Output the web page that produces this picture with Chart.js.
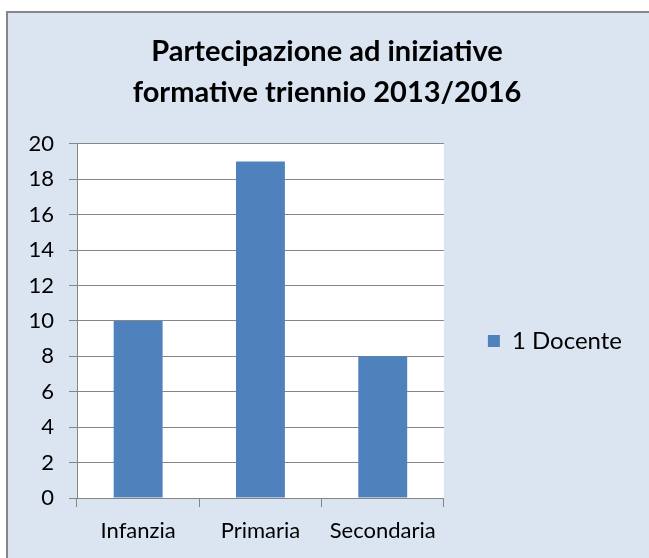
<!DOCTYPE html>
<html>
<head>
<meta charset="utf-8">
<script src="https://cdn.jsdelivr.net/npm/chart.js@4.4.1/dist/chart.umd.min.js"></script>
<style>
  html, body { margin: 0; padding: 0; background: #fff; overflow: hidden; }
  #frame {
    position: absolute; left: 6px; top: 11px; width: 700px; height: 600px;
    background: #dbe5f1; border: 2px solid #868686;
  }
  #wrap { position: absolute; left: 0; top: 0; width: 649px; height: 558px; }
</style>
</head>
<body>
<div id="frame"></div>
<div id="wrap"><canvas id="chart" width="649" height="558"></canvas></div>
<script>
// dati
const categorie = ['Infanzia', 'Primaria', 'Secondaria'];
const docenti = [10, 19, 8];
const titolo = ['Partecipazione ad iniziative', 'formative triennio 2013/2016'];
const serieLabel = '1 Docente';

const padSx = 22; // margine sinistro del layout

// sfondo bianco dell'area del grafico
const areaBianca = {
  id: 'areaBianca',
  beforeDraw(chart) {
    const a = chart.chartArea;
    const c = chart.ctx;
    c.save();
    c.fillStyle = '#ffffff';
    c.fillRect(a.left, a.top, a.right - a.left, a.bottom - a.top);
    c.restore();
  }
};

const ctx = document.getElementById('chart').getContext('2d');
new Chart(ctx, {
  type: 'bar',
  data: {
    labels: categorie,
    datasets: [{
      label: serieLabel,
      data: docenti,
      backgroundColor: '#4f81bd',
      borderWidth: 0,
      barPercentage: 0.4,
      categoryPercentage: 1
    }]
  },
  options: {
    responsive: false,
    animation: false,
    layout: { padding: { left: padSx, right: 17, top: 0, bottom: 0 } },
    plugins: {
      title: {
        display: true,
        text: titolo,
        color: '#000',
        font: { family: 'Lato', size: 29, weight: 'bold', lineHeight: 1.41 },
        padding: { top: 31, bottom: 31 }
      },
      legend: {
        position: 'right',
        maxWidth: 400,
        labels: {
          color: '#000',
          font: { family: 'Lato', size: 24 },
          boxWidth: 12,
          boxHeight: 12,
          padding: 44
        },
        // titolo vuoto solo per abbassare la voce della legenda
        title: { display: true, text: ' ', font: { size: 10 }, padding: { top: 0, bottom: 112 } }
      },
      tooltip: { enabled: false }
    },
    scales: {
      x: {
        grid: { display: true, drawOnChartArea: false, color: '#868686', tickLength: 9, offset: true },
        border: { color: '#868686', width: 1 },
        ticks: { color: '#000', font: { family: 'Lato', size: 22 }, padding: 11 },
        afterFit(scale) { scale.height = 60; }
      },
      y: {
        min: 0,
        max: 20,
        ticks: { stepSize: 2, color: '#000', font: { family: 'Lato', size: 22 }, padding: 15 },
        grid: { color: '#868686', tickLength: 8 },
        border: { color: '#868686', width: 1 },
        afterFit(scale) { scale.width = 77 - padSx; }
      }
    }
  },
  plugins: [areaBianca]
});
</script>
</body>
</html>
